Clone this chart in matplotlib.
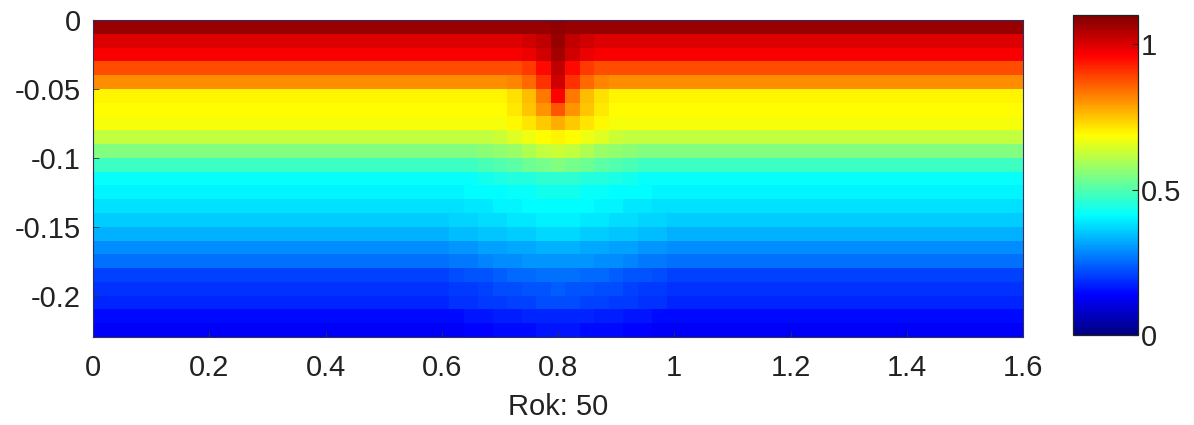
import numpy as np
import matplotlib
matplotlib.use("Agg")
import matplotlib.pyplot as plt
from matplotlib.colors import LinearSegmentedColormap

# Horizontal positions of the cell centres (m) and layer depths (m)
x_start, x_stop, x_step = 0.0, 1.6, 0.025
layer_top, layer_step, n_layers = 0.0, 0.01, 23

# Value in each layer away from the disturbance (top to bottom)
base_profile = [1.07, 1.00, 0.97, 0.88, 0.81, 0.70, 0.69, 0.675, 0.62, 0.55,
                0.48, 0.42, 0.40, 0.38, 0.357, 0.33, 0.29, 0.26, 0.21, 0.19,
                0.18, 0.15, 0.13]

# Extra value around x = 0.8, per layer, for column offsets 0..8 from the centre
centre_x = 0.8
anomaly = [
    [0.01, 0.00, 0.00, 0.00, 0.00, 0.00, 0.00, 0.00, 0.00],
    [0.07, 0.03, 0.01, 0.00, 0.00, 0.00, 0.00, 0.00, 0.00],
    [0.09, 0.04, 0.01, 0.00, 0.00, 0.00, 0.00, 0.00, 0.00],
    [0.15, 0.07, 0.02, 0.00, 0.00, 0.00, 0.00, 0.00, 0.00],
    [0.20, 0.10, 0.04, 0.01, 0.00, 0.00, 0.00, 0.00, 0.00],
    [0.26, 0.13, 0.06, 0.02, 0.00, 0.00, 0.00, 0.00, 0.00],
    [0.18, 0.11, 0.06, 0.02, 0.00, 0.00, 0.00, 0.00, 0.00],
    [0.10, 0.07, 0.04, 0.02, 0.00, 0.00, 0.00, 0.00, 0.00],
    [0.08, 0.07, 0.05, 0.03, 0.01, 0.00, 0.00, 0.00, 0.00],
    [0.08, 0.07, 0.05, 0.03, 0.02, 0.01, 0.00, 0.00, 0.00],
    [0.07, 0.06, 0.05, 0.03, 0.02, 0.01, 0.00, 0.00, 0.00],
    [0.04, 0.04, 0.03, 0.03, 0.02, 0.01, 0.00, 0.00, 0.00],
    [0.03, 0.03, 0.02, 0.02, 0.01, 0.01, 0.01, 0.00, 0.00],
    [0.03, 0.03, 0.03, 0.02, 0.02, 0.01, 0.01, 0.00, 0.00],
    [0.04, 0.04, 0.03, 0.03, 0.02, 0.02, 0.01, 0.01, 0.00],
    [0.04, 0.04, 0.03, 0.03, 0.02, 0.02, 0.01, 0.01, 0.00],
    [0.04, 0.04, 0.03, 0.03, 0.02, 0.02, 0.01, 0.01, 0.00],
    [0.04, 0.04, 0.04, 0.03, 0.03, 0.02, 0.01, 0.01, 0.00],
    [0.05, 0.05, 0.04, 0.04, 0.03, 0.02, 0.02, 0.01, 0.00],
    [0.05, 0.04, 0.04, 0.03, 0.03, 0.02, 0.01, 0.01, 0.00],
    [0.04, 0.04, 0.03, 0.03, 0.02, 0.02, 0.01, 0.01, 0.00],
    [0.03, 0.03, 0.03, 0.02, 0.02, 0.01, 0.01, 0.00, 0.00],
    [0.03, 0.03, 0.02, 0.02, 0.02, 0.01, 0.01, 0.00, 0.00],
]

x_ticks = [0, 0.2, 0.4, 0.6, 0.8, 1, 1.2, 1.4, 1.6]
x_tick_labels = ["0", "0.2", "0.4", "0.6", "0.8", "1", "1.2", "1.4", "1.6"]
y_ticks = [0, -0.05, -0.1, -0.15, -0.2]
y_tick_labels = ["0", "-0.05", "-0.1", "-0.15", "-0.2"]
cbar_ticks = [0, 0.5, 1]
cbar_tick_labels = ["0", "0.5", "1"]
x_label = "Rok: 50"
c_min, c_max = 0.0, 1.1

# Classic MATLAB-style jet
jet_m = LinearSegmentedColormap("jet_m", {
    "red":   [(0, 0, 0), (3 / 8, 0, 0), (5 / 8, 1, 1), (7 / 8, 1, 1), (1, 0.5, 0.5)],
    "green": [(0, 0, 0), (1 / 8, 0, 0), (3 / 8, 1, 1), (5 / 8, 1, 1), (7 / 8, 0, 0), (1, 0, 0)],
    "blue":  [(0, 0.5, 0.5), (1 / 8, 1, 1), (3 / 8, 1, 1), (5 / 8, 0, 0), (1, 0, 0)],
}, N=256)

# Build the field
n_cols = int(round((x_stop - x_start) / x_step)) + 1
x_centres = x_start + x_step * np.arange(n_cols)
y_edges = -(layer_top + layer_step * np.arange(n_layers + 1))
centre_idx = int(round((centre_x - x_start) / x_step))

field = np.tile(np.asarray(base_profile)[:, None], (1, n_cols))
anom = np.asarray(anomaly)
for off in range(anom.shape[1]):
    for idx in {centre_idx - off, centre_idx + off}:
        if 0 <= idx < n_cols:
            field[:, idx] += anom[:, off]

x_edges = np.concatenate([[x_centres[0] - x_step / 2],
                          (x_centres[:-1] + x_centres[1:]) / 2,
                          [x_centres[-1] + x_step / 2]])

plt.rcParams["font.family"] = ["Liberation Sans", "DejaVu Sans"]

W, H = 1194, 425
fig = plt.figure(figsize=(W / 100, H / 100), dpi=100)
ax = fig.add_axes([93 / W, 1 - 337 / H, (1023 - 93) / W, (337 - 20) / H])
cax = fig.add_axes([1073 / W, 1 - 335 / H, (1138 - 1073) / W, (335 - 15) / H])

mesh = ax.pcolormesh(x_edges, y_edges, field, cmap=jet_m,
                     vmin=c_min, vmax=c_max, shading="flat")
ax.set_xlim(0, 1.6)
ax.set_ylim(-0.23, 0)
ax.set_xticks(x_ticks)
ax.set_xticklabels(x_tick_labels)
ax.set_yticks(y_ticks)
ax.set_yticklabels(y_tick_labels)
ax.tick_params(direction="in", length=4, width=0.6, labelsize=21,
               color="#333333", labelcolor="#222222")
ax.tick_params(axis="x", pad=12)
ax.tick_params(axis="y", pad=9)
ax.set_xlabel(x_label, fontsize=21, color="#222222", labelpad=8)
for s in ax.spines.values():
    s.set_linewidth(0.8)
    s.set_color("#303060")

cb = fig.colorbar(mesh, cax=cax)
cb.set_ticks(cbar_ticks)
cb.set_ticklabels(cbar_tick_labels)
cax.tick_params(direction="in", length=4, width=0.8, labelsize=21,
                color="#222222", labelcolor="#222222", pad=2)
cb.outline.set_linewidth(0.9)
cb.outline.set_edgecolor("#222222")

fig.savefig("out.png", dpi=100)
